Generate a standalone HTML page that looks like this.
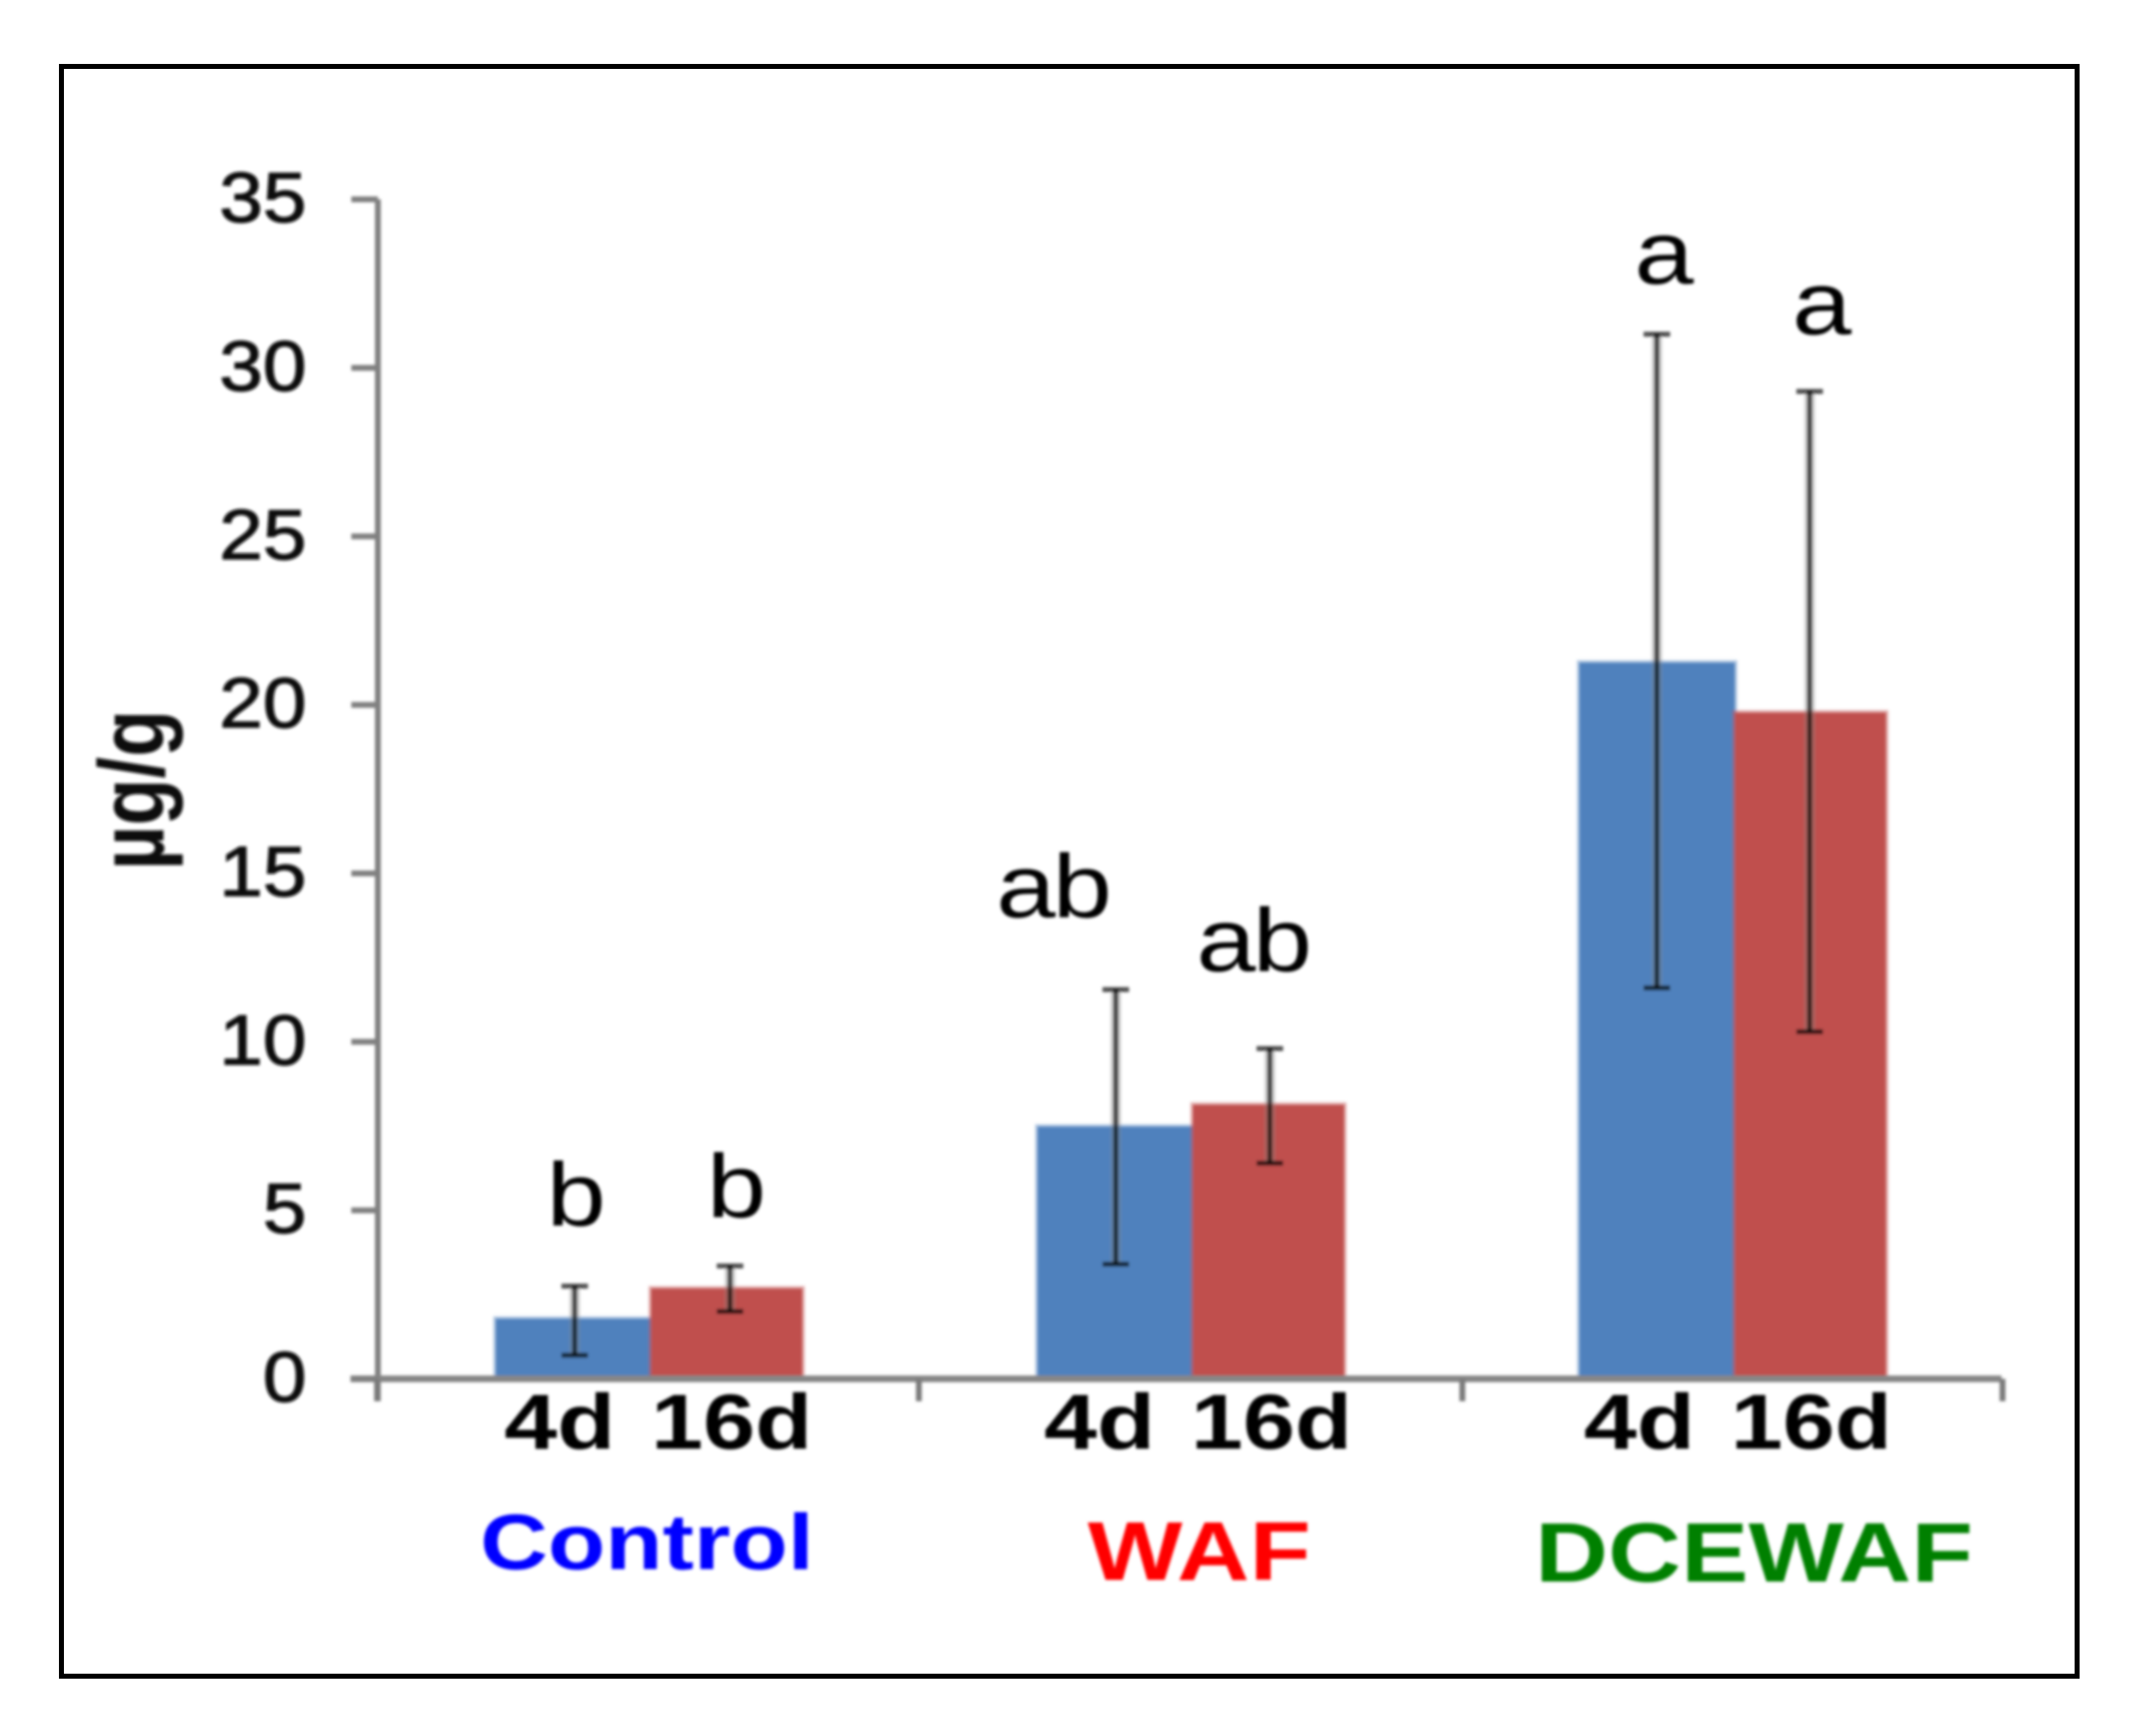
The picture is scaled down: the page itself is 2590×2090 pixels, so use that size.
<!DOCTYPE html>
<html>
<head>
<meta charset="utf-8">
<title>Bar chart of µg/g by treatment</title>
<style>
html,body{margin:0;padding:0;background:#fff;width:2590px;height:2090px;overflow:hidden}
svg{display:block}
text{font-family:"Liberation Sans",Arial,sans-serif}
</style>
</head>
<body>
<svg id="chart" xmlns="http://www.w3.org/2000/svg" width="2590" height="2090" viewBox="0 0 2590 2090">
  <defs>
    <filter id="soft" x="-5%" y="-5%" width="110%" height="110%"><feGaussianBlur stdDeviation="1.8"/></filter>
  </defs>
  <rect x="0" y="0" width="2590" height="2090" fill="#ffffff"/>
  <rect x="74" y="80" width="2427" height="1938" fill="none" stroke="#000" stroke-width="6"/>
  <g id="plot" filter="url(#soft)">
    <text transform="translate(197,951) scale(1.2,1) rotate(-90)" font-size="93" font-weight="bold" text-anchor="middle" fill="#111">µg/g</text>
    <text transform="translate(779,1889) scale(1.19,1)" font-size="95" font-weight="bold" text-anchor="middle" fill="#0000ff">Control</text>
    <text transform="translate(1444,1902) scale(1.21,1)" font-size="100" font-weight="bold" text-anchor="middle" fill="#ff0000">WAF</text>
    <text transform="translate(2112,1904) scale(1.205,1)" font-size="101" font-weight="bold" text-anchor="middle" fill="#008000">DCEWAF</text>
  </g>
</svg>
<script>
const yTicks = ['0', '5', '10', '15', '20', '25', '30', '35'];
const tickValues = [0, 5, 10, 15, 20, 25, 30, 35];
const categories = ['Control', 'WAF', 'DCEWAF'];
const seriesNames = ['4d', '16d'];
const values4d = [1.78, 7.48, 21.25];
const values16d = [2.68, 8.13, 19.77];
const errHigh4d = [2.75, 11.55, 31.0];
const errLow4d = [0.7, 3.4, 11.6];
const errHigh16d = [3.35, 9.8, 29.3];
const errLow16d = [2.0, 6.4, 10.3];
const letters4d = ['b', 'ab', 'a'];
const letters16d = ['b', 'ab', 'a'];
const letterLevel4d = [4.55, 13.7, 32.5];
const letterLevel16d = [4.8, 12.1, 31.0];

const NS = 'http://www.w3.org/2000/svg';
const plot = document.getElementById('plot');
function yScale(v) { return 1660 - v * 40.57; }
function catCenter(i) { return 780 + i * 652.4; }
function make(tag, attrs) {
  const el = document.createElementNS(NS, tag);
  for (const k in attrs) el.setAttribute(k, attrs[k]);
  plot.appendChild(el);
  return el;
}
function label(str, x, y, size, bold, anchor, fill, sx) {
  const el = make('text', {
    transform: 'translate(' + x + ',' + y + ') scale(' + (sx || 1.2) + ',1)',
    'font-size': size,
    'font-weight': bold ? 'bold' : 'normal',
    'text-anchor': anchor,
    fill: fill
  });
  el.textContent = str;
  return el;
}
function drawBar(left, right, value, color) {
  const el = make('rect', {
    x: left,
    y: yScale(value),
    width: right - left,
    height: yScale(0) - yScale(value),
    fill: color,
    stroke: color,
    'stroke-opacity': 0.45,
    'stroke-width': 6
  });
  return el;
}
function drawError(x, low, high) {
  const g = document.createElementNS(NS, 'g');
  const halo = document.createElementNS(NS, 'line');
  halo.setAttribute('x1', x);
  halo.setAttribute('y1', yScale(low));
  halo.setAttribute('x2', x);
  halo.setAttribute('y2', yScale(high));
  halo.setAttribute('stroke', '#888888');
  halo.setAttribute('stroke-opacity', '0.35');
  halo.setAttribute('stroke-width', '13');
  g.appendChild(halo);
  const segs = [
    [x, yScale(low), x, yScale(high)],
    [x - 16, yScale(low), x + 16, yScale(low)],
    [x - 16, yScale(high), x + 16, yScale(high)]
  ];
  segs.forEach(function (s) {
    const ln = document.createElementNS(NS, 'line');
    ln.setAttribute('x1', s[0]);
    ln.setAttribute('y1', s[1]);
    ln.setAttribute('x2', s[2]);
    ln.setAttribute('y2', s[3]);
    ln.setAttribute('stroke', '#000000');
    ln.setAttribute('stroke-opacity', '0.68');
    ln.setAttribute('stroke-width', '6');
    g.appendChild(ln);
  });
  plot.appendChild(g);
  return g;
}

categories.forEach(function (cat, i) {
  const c = catCenter(i);
  const blue = drawBar(c - 183, c + 4, values4d[i], '#4f81bd');
  
  
  const red = drawBar(c + 4, c + 186, values16d[i], '#c0504d');
  
  
});

const yAxisLine = make('line', { x1: 455, y1: 240, x2: 455, y2: 1687, stroke: '#7f7f7f', 'stroke-width': 7 });


const xAxisLine = make('line', { x1: 422, y1: 1660, x2: 2410, y2: 1660, stroke: '#868686', 'stroke-width': 8 });



tickValues.forEach(function (v, i) {
  const t = make('line', { x1: 423, y1: yScale(v), x2: 455, y2: yScale(v), stroke: '#808080', 'stroke-width': 7 });
  
  
  const l = label(yTicks[i], 369, yScale(v) + 27, 85, false, 'end', '#111', 1.11);
  l.setAttribute('stroke', '#111');
  l.setAttribute('stroke-width', '1.5');
  
  
});

for (let i = 0; i <= categories.length; i++) {
  const x = catCenter(i) - 326 + (i === 2 ? 2 : 0);
  const t = make('line', { x1: x, y1: 1660, x2: x, y2: 1687, stroke: '#7a7a7a', 'stroke-width': 7 });
  
  
}

categories.forEach(function (cat, i) {
  const e1 = drawError(692 + i * 651.5, errLow4d[i], errHigh4d[i]);
  
  
  const e2 = drawError(879 + i * 650, errLow16d[i], errHigh16d[i]);
  
  

  const s1 = label(seriesNames[0], 674 + i * 650, 1744, 94, true, 'middle', '#000', 1.22);
  
  
  const s2 = label(seriesNames[1], 881 + i * 650, 1744, 94, true, 'middle', '#000', 1.2);
  
  
});

const shift4d = [ -88, -165, -83 ];
const shift16d = [ 105, 76, 107 ];
categories.forEach(function (cat, i) {
  const c = catCenter(i);
  const a = label(letters4d[i], c + shift4d[i], yScale(letterLevel4d[i]), 108, false, 'middle', '#000', 1.19);
  a.setAttribute('letter-spacing', '-3');
  
  
  const b = label(letters16d[i], c + shift16d[i], yScale(letterLevel16d[i]), 108, false, 'middle', '#000', 1.19);
  b.setAttribute('letter-spacing', '-3');
  
  
});
</script>
</body>
</html>
